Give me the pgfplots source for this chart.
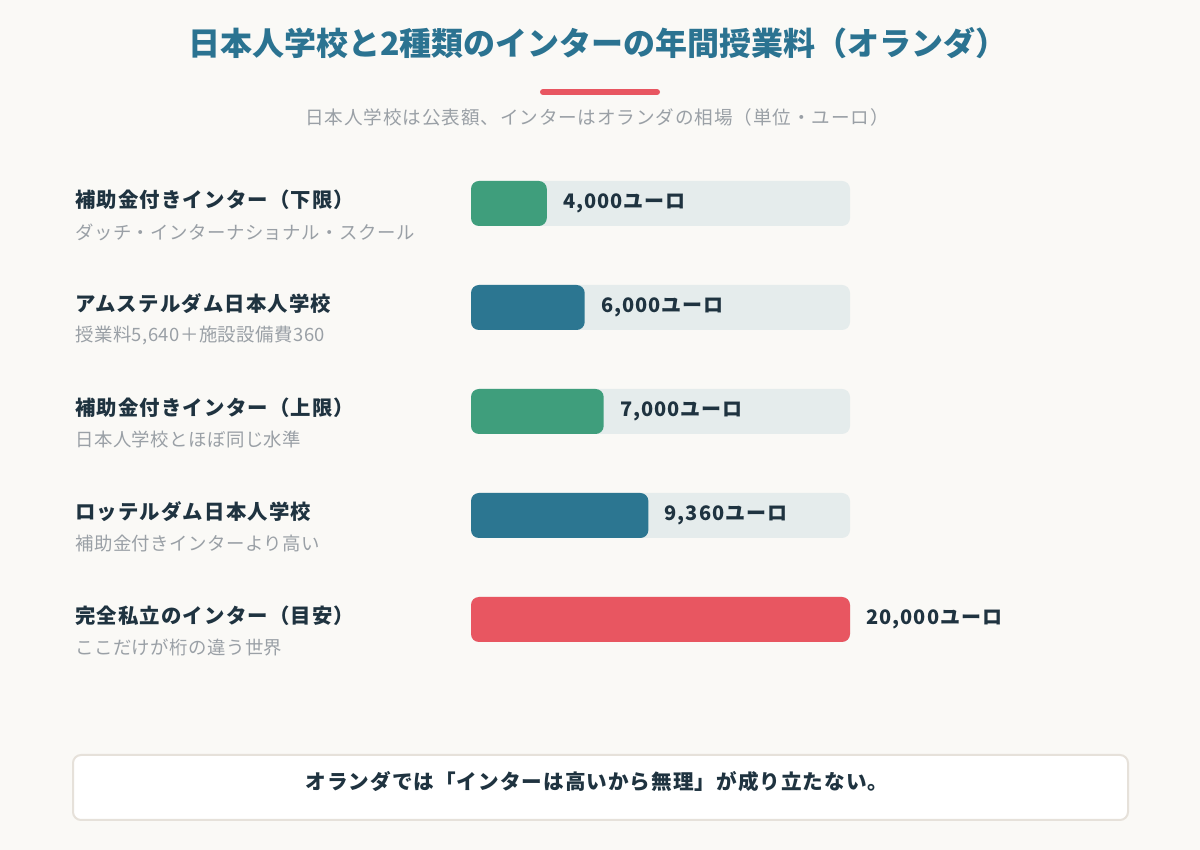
\documentclass[border=0pt]{standalone}
\usepackage{fontspec}
\setmainfont{Noto Sans CJK JP}
\usepackage{pgfplots}
\pgfplotsset{compat=1.18}
\definecolor{bgc}{HTML}{FAF9F6}
\definecolor{titlec}{HTML}{2B7391}
\definecolor{bluec}{HTML}{2C7691}
\definecolor{greenc}{HTML}{3F9E7C}
\definecolor{redc}{HTML}{E85661}
\definecolor{trackc}{HTML}{E5ECEC}
\definecolor{darkc}{HTML}{1F3340}
\definecolor{grayc}{HTML}{9AA0A6}
\definecolor{boxc}{HTML}{E6E1DA}
\newcommand{\lab}{\fontsize{10.2pt}{12pt}\selectfont\bfseries\addfontfeature{LetterSpace=5.5}}
\newcommand{\sub}{\fontsize{9.2pt}{11pt}\selectfont\addfontfeature{LetterSpace=2.5}}
\begin{document}
\begin{tikzpicture}[x=0.5pt,y=0.5pt]
\fill[bgc] (0,0) rectangle (1200,850);
\useasboundingbox (0,0) rectangle (1200,850);
\node[font=\fontsize{16pt}{18pt}\selectfont\bfseries, text=titlec] at (598,807) {日本人学校と2種類のインターの年間授業料（オランダ）};
\draw[redc, line width=3pt, line cap=round] (543,758) -- (657,758);
\node[font=\fontsize{9.3pt}{11pt}\selectfont\addfontfeature{LetterSpace=4.7}, text=grayc] at (597,733) {日本人学校は公表額、インターはオランダの相場（単位・ユーロ）};
\begin{scope}[every node/.style={anchor=west, inner sep=0pt}]
\node[font=\lab, text=darkc] at (75,650) {補助金付きインター（下限）};
\node[font=\sub, text=grayc] at (75,618) {ダッチ・インターナショナル・スクール};
\node[font=\lab, text=darkc] at (75,546) {アムステルダム日本人学校};
\node[font=\sub, text=grayc] at (75,514) {授業料5,640＋施設設備費360};
\node[font=\lab, text=darkc] at (75,442) {補助金付きインター（上限）};
\node[font=\sub, text=grayc] at (75,410) {日本人学校とほぼ同じ水準};
\node[font=\lab, text=darkc] at (75,338) {ロッテルダム日本人学校};
\node[font=\sub, text=grayc] at (75,306) {補助金付きインターより高い};
\node[font=\lab, text=darkc] at (75,234) {完全私立のインター（目安）};
\node[font=\sub, text=grayc] at (75,202) {ここだけが桁の違う世界};
\end{scope}
\begin{axis}[
  at={(235.5pt,85pt)}, anchor=south west,
  scale only axis, width=189.5pt, height=260pt,
  xmin=0, xmax=20000, ymin=160, ymax=680, y dir=reverse,
  hide axis, clip=false,
  xbar, bar shift=0pt, bar width=22.5pt,
  nodes near coords style={anchor=west, inner sep=0pt, xshift=8pt,
    font=\fontsize{10pt}{12pt}\selectfont\bfseries\addfontfeature{LetterSpace=5}, text=darkc},
]
\addplot[fill=trackc, draw=none, rounded corners=4pt] coordinates {(20000,203.5) (20000,307.5) (20000,411.5) (20000,515.5) (20000,619.5)};
\addplot[fill=greenc, draw=none, rounded corners=4pt, point meta=explicit symbolic, nodes near coords] coordinates {(4000,203.5) [4,000ユーロ] (7000,411.5) [7,000ユーロ]};
\addplot[fill=bluec, draw=none, rounded corners=4pt, point meta=explicit symbolic, nodes near coords] coordinates {(6000,307.5) [6,000ユーロ] (9360,515.5) [9,360ユーロ]};
\addplot[fill=redc, draw=none, rounded corners=4pt, point meta=explicit symbolic, nodes near coords] coordinates {(20000,619.5) [20,000ユーロ]};
\end{axis}
\draw[boxc, line width=1pt, fill=white, rounded corners=4pt] (73,30) rectangle (1128,95);
\node[font=\fontsize{10.3pt}{12pt}\selectfont\bfseries\addfontfeature{LetterSpace=5}, text=darkc] at (597,68) {オランダでは「インターは高いから無理」が成り立たない。};
\end{tikzpicture}
\end{document}
